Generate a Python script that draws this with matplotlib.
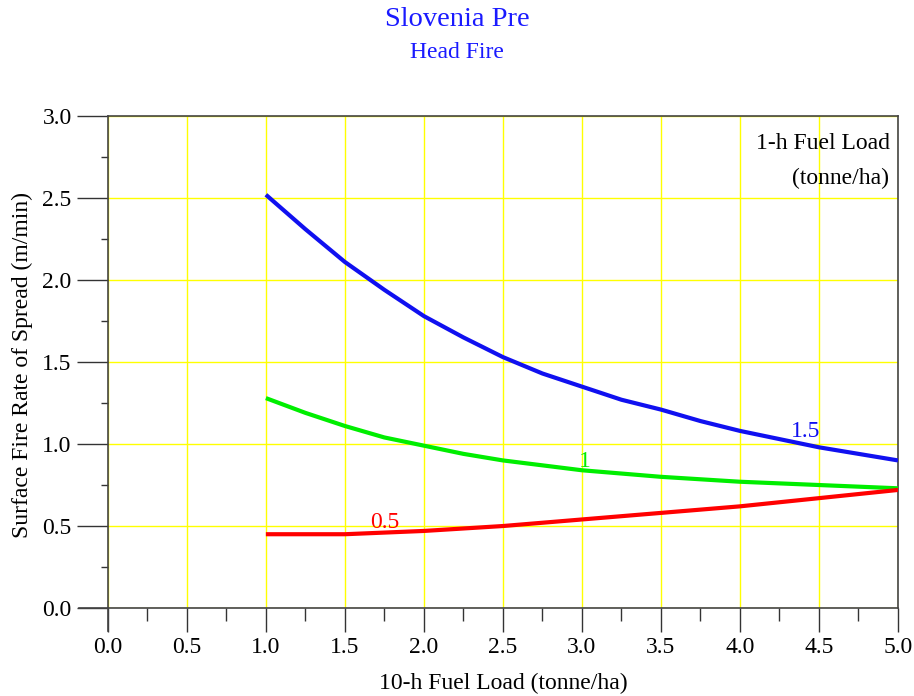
import matplotlib
matplotlib.use("Agg")
import matplotlib.pyplot as plt
from matplotlib.ticker import MultipleLocator, FormatStrFormatter

plt.rcParams['font.family'] = ['Liberation Serif', 'DejaVu Serif']

x_vals = [1.0, 1.25, 1.5, 1.75, 2.0, 2.25, 2.5, 2.75, 3.0, 3.25, 3.5, 3.75, 4.0, 4.25, 4.5, 4.75, 5.0]
blue_15 = [2.52, 2.31, 2.11, 1.94, 1.78, 1.65, 1.53, 1.43, 1.35, 1.27, 1.21, 1.14, 1.08, 1.03, 0.98, 0.94, 0.90]
green_1 = [1.28, 1.19, 1.11, 1.04, 0.99, 0.94, 0.90, 0.87, 0.84, 0.82, 0.80, 0.785, 0.77, 0.76, 0.75, 0.74, 0.73]
red_05 = [0.45, 0.45, 0.45, 0.46, 0.47, 0.485, 0.50, 0.52, 0.54, 0.56, 0.58, 0.60, 0.62, 0.645, 0.67, 0.695, 0.72]
series = [
    ("1.5", blue_15, "#1010F0", (4.32, 1.01)),
    ("1", green_1, "#00EE00", (2.98, 0.83)),
    ("0.5", red_05, "#FF0000", (1.66, 0.46)),
]

FS = 17

fig = plt.figure(figsize=(9.14, 6.96), dpi=100)
ax = fig.add_axes([0.118, 0.1264, 0.8645, 0.7069])

for lab, ys, col, pos in series:
    ax.plot(x_vals, ys, color=col, lw=3.0, solid_capstyle='butt', zorder=3)
    ax.text(pos[0], pos[1], lab, color=col, fontsize=FS, ha='left', va='bottom', zorder=4)

ax.set_xlim(0, 5)
ax.set_ylim(0, 3)
ax.xaxis.set_major_locator(MultipleLocator(0.5))
ax.xaxis.set_minor_locator(MultipleLocator(0.25))
ax.yaxis.set_major_locator(MultipleLocator(0.5))
ax.yaxis.set_minor_locator(MultipleLocator(0.25))
ax.xaxis.set_major_formatter(FormatStrFormatter('%.1f'))
ax.yaxis.set_major_formatter(FormatStrFormatter('%.1f'))
ax.grid(True, which='major', color='#FFFF00', lw=1.0, zorder=1)
ax.tick_params(axis='x', which='major', direction='out', length=17, width=1, color='#333333', labelsize=FS, pad=4)
ax.tick_params(axis='x', which='minor', direction='out', length=9, width=1, color='#333333')
ax.tick_params(axis='y', which='major', direction='out', length=22, width=1, color='#333333', labelsize=FS, pad=4)
ax.tick_params(axis='y', which='minor', direction='out', length=5, width=1, color='#333333')
for s in ax.spines.values():
    s.set_color('#444444')
    s.set_linewidth(1.2)
# extended axis lines
ax.plot([0, 0], [0, -0.14], color='#444444', lw=1.2, clip_on=False)
ax.plot([-0.18, 0], [0, 0], color='#444444', lw=1.2, clip_on=False)

fig.text(0.5505, 0.0187, "10-h Fuel Load (tonne/ha)", ha='center', va='center', fontsize=FS)
fig.text(0.025, 0.4756, "Surface Fire Rate of Spread (m/min)", ha='center', va='center',
         rotation=90, fontsize=FS)

ax.text(0.99, 0.965, "1-h Fuel Load", transform=ax.transAxes, ha='right', va='top', fontsize=FS)
ax.text(0.988, 0.895, "(tonne/ha)", transform=ax.transAxes, ha='right', va='top', fontsize=FS)

fig.text(0.5, 0.972, "Slovenia Pre", ha='center', va='center', color='#1a1aff', fontsize=20.5)
fig.text(0.5, 0.925, "Head Fire", ha='center', va='center', color='#1a1aff', fontsize=17)

fig.savefig("out.png", dpi=100)
